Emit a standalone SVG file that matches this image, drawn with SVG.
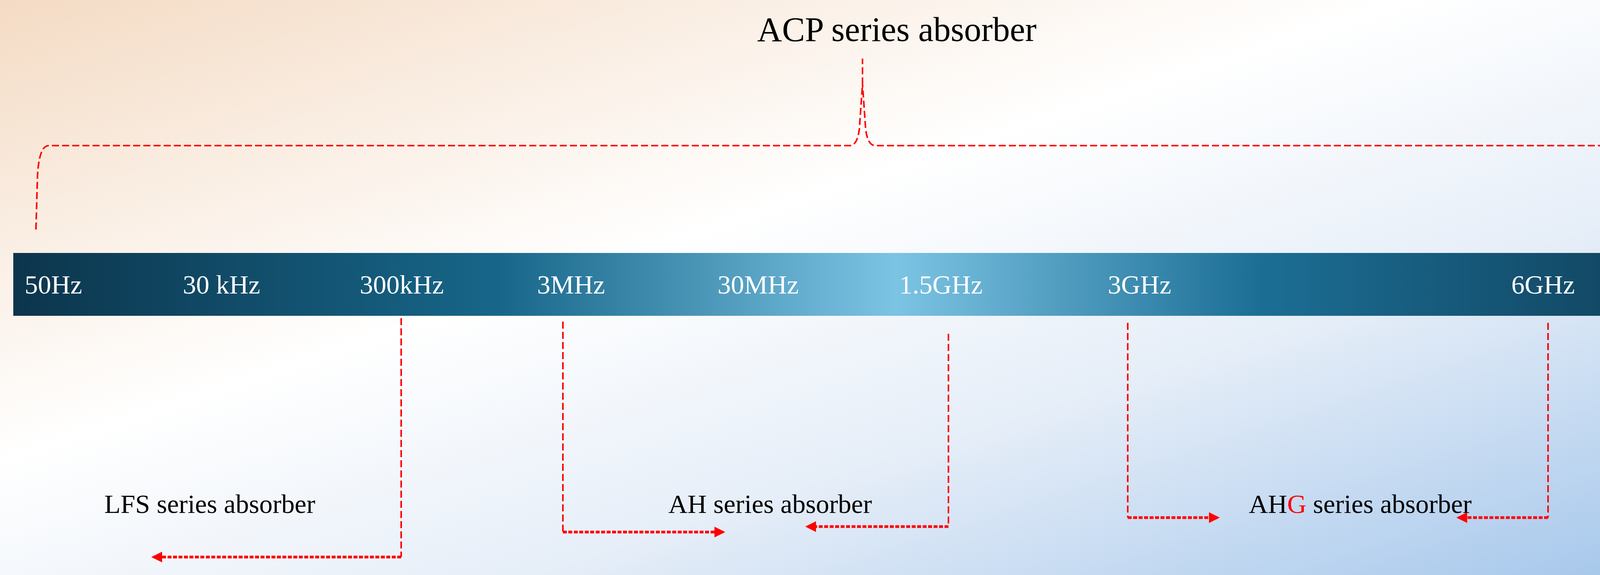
<svg xmlns="http://www.w3.org/2000/svg" width="4500" height="1473" viewBox="0 0 4500 1473">
<style>
.t{font-family:"Liberation Serif","Times New Roman",serif;}
.w{fill:#fff;font-size:68px;}
.k{fill:#000;font-size:68px;}
.ti{fill:#000;font-size:88px;}
.d{fill:none;stroke:#f00;stroke-width:4;stroke-dasharray:18 8;}
.a{fill:none;stroke:#f00;stroke-width:7;stroke-dasharray:10 4;}
</style>
<defs>
<linearGradient id="bg" x1="0" y1="0" x2="1" y2="1">
<stop offset="0" stop-color="#f4dbc4"/>
<stop offset="0.4" stop-color="#ffffff"/>
<stop offset="0.65" stop-color="#e6eef8"/>
<stop offset="1" stop-color="#9fc3ea"/>
</linearGradient>
<linearGradient id="bar" x1="0" y1="0" x2="1" y2="0">
<stop offset="0" stop-color="#0c354c"/>
<stop offset="0.28" stop-color="#176689"/>
<stop offset="0.51" stop-color="#7cc4e4"/>
<stop offset="0.72" stop-color="#1c6e95"/>
<stop offset="1" stop-color="#0e3a52"/>
</linearGradient>
<marker id="ar" viewBox="0 0 10 10" refX="8" refY="5" markerWidth="4" markerHeight="4" orient="auto" markerUnits="strokeWidth">
<path d="M0,0 L10,5 L0,10 z" fill="#f00"/>
</marker>
</defs>
<rect width="4500" height="1473" fill="url(#bg)"/>
<g id="title"><text class="t ti" x="2296" y="105" text-anchor="middle">ACP series absorber</text></g>
<g id="bar">
<rect x="34" y="648" width="4429" height="161" fill="url(#bar)"/>
<text class="t w" x="63" y="752">50Hz</text>
<text class="t w" x="468" y="752">30 kHz</text>
<text class="t w" x="921" y="752">300kHz</text>
<text class="t w" x="1375" y="752">3MHz</text>
<text class="t w" x="1837" y="752">30MHz</text>
<text class="t w" x="2302" y="752">1.5GHz</text>
<text class="t w" x="2836" y="752">3GHz</text>
<text class="t w" x="3869" y="752">6GHz</text>
<text class="t w" x="4147" y="752">24GHz</text>
</g>
<g id="lfs"><text class="t k" x="267" y="1314">LFS series absorber</text></g>
<g id="ah"><text class="t k" x="1711" y="1314">AH series absorber</text></g>
<g id="ahg"><text class="t k" x="3197" y="1314">AH<tspan fill="#f00">G</tspan> series absorber</text></g>
<g id="connectors">
<path class="d" d="M92,588 L96,450 Q100,373 125,373 L2175,373 Q2195,373 2200,330 L2208,215 L2208,150"/>
<path class="d" d="M4385,588 L4380,450 Q4376,373 4350,373 L2241,373 Q2221,373 2216,330 L2208,215"/>
<path class="d" d="M1027,815 L1027,1427"/><path class="a" d="M1027,1427 L393,1427" marker-end="url(#ar)"/>
<path class="d" d="M1441,824 L1441,1363"/><path class="a" d="M1441,1363 L1851,1363" marker-end="url(#ar)"/>
<path class="d" d="M2428,855 L2428,1349"/><path class="a" d="M2428,1349 L2067,1349" marker-end="url(#ar)"/>
<path class="d" d="M2887,827 L2887,1326"/><path class="a" d="M2887,1326 L3117,1326" marker-end="url(#ar)"/>
<path class="d" d="M3963,827 L3963,1326"/><path class="a" d="M3963,1326 L3734,1326" marker-end="url(#ar)"/>
</g>
</svg>
